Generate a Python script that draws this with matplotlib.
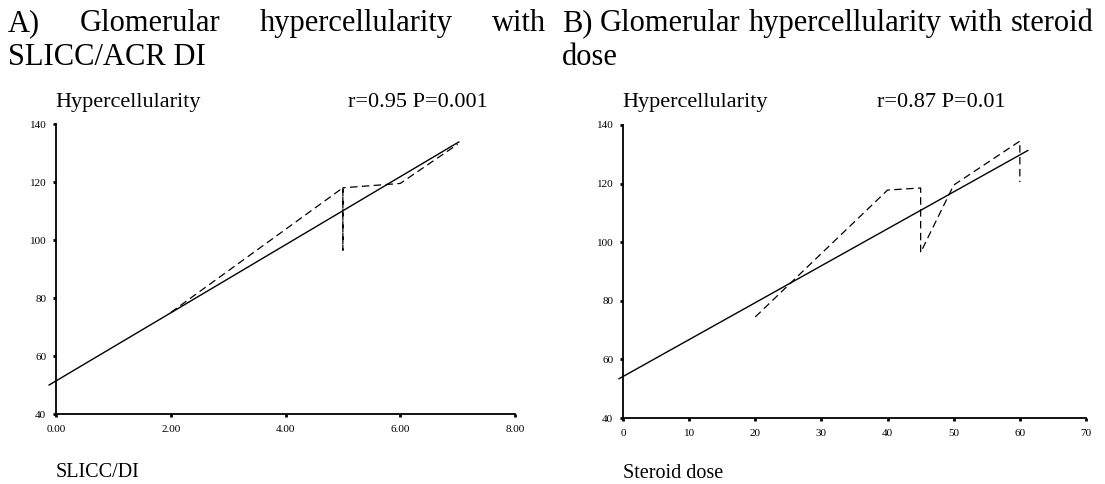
import matplotlib
matplotlib.use("Agg")
import matplotlib.pyplot as plt

# ---- data ----
slicc_x = [2, 5, 5, 5, 6, 7]
slicc_y = [75, 118, 96.5, 118, 119.5, 133]
slicc_fit_x = [-0.12, 7.02]
slicc_fit_y = [50.0, 133.8]

steroid_x = [20, 40, 45, 45, 50, 60, 60]
steroid_y = [74.5, 117.8, 118.5, 96.5, 119.5, 134.5, 120.5]
steroid_fit_x = [-0.6, 61.2]
steroid_fit_y = [53.4, 131.3]

yticks = [40, 60, 80, 100, 120, 140]
slicc_xticks = [0, 2, 4, 6, 8]
slicc_xticklabels = ["0.00", "2.00", "4.00", "6.00", "8.00"]
steroid_xticks = [0, 10, 20, 30, 40, 50, 60, 70]

title_a1 = ["A)", "Glomerular", "hypercellularity", "with"]
title_a2 = "SLICC/ACR DI"
title_b1 = ["B)", "Glomerular", "hypercellularity", "with", "steroid"]
title_b2 = "dose"
ylab = "Hypercellularity"
stat_a = "r=0.95 P=0.001"
stat_b = "r=0.87 P=0.01"
xlab_a = "SLICC/DI"
xlab_b = "Steroid dose"

plt.rcParams['font.family'] = ['Liberation Serif', 'DejaVu Serif']

W, H = 1105, 484
fig = plt.figure(figsize=(W / 100, H / 100), dpi=100)


def fx(px):
    return px / W


def fy(py):
    return 1 - py / H


def ax_rect(x0, x1, ytop, ybot):
    return [fx(x0), fy(ybot), (x1 - x0) / W, (ybot - ytop) / H]


axA = fig.add_axes(ax_rect(56, 515, 124, 414))
axB = fig.add_axes(ax_rect(623, 1086, 125, 418))

dash = (6, 3.5)
for ax, dx, dy, fxs, fys, xlim, xt in [
    (axA, slicc_x, slicc_y, slicc_fit_x, slicc_fit_y, (0, 8), slicc_xticks),
    (axB, steroid_x, steroid_y, steroid_fit_x, steroid_fit_y, (0, 70), steroid_xticks),
]:
    ax.plot(fxs, fys, color='black', lw=1.0, clip_on=False)
    ax.plot(dx, dy, color='black', lw=0.9, linestyle=(0, dash), clip_on=False)
    ax.set_xlim(*xlim)
    ax.set_ylim(40, 140)
    ax.set_yticks(yticks)
    ax.set_xticks(xt)
    for s in ['top', 'right']:
        ax.spines[s].set_visible(False)
    for s in ['left', 'bottom']:
        ax.spines[s].set_linewidth(1.3)
    ax.tick_params(axis='both', direction='out', length=2, width=2,
                   labelsize=8)
    ax.tick_params(axis='x', pad=6)
    ax.tick_params(axis='y', pad=5)

axA.set_xticklabels(slicc_xticklabels)

fig.canvas.draw()
renderer = fig.canvas.get_renderer()


def justify(words, x0, x1, ybase, size):
    ts = [fig.text(0, fy(ybase), w, fontsize=size, va='baseline', ha='left')
          for w in words]
    widths = [t.get_window_extent(renderer).width for t in ts]
    gap = (x1 - x0 - sum(widths)) / (len(words) - 1)
    x = x0
    for t, w in zip(ts, widths):
        t.set_x(fx(x))
        x += w + gap


TS = 22
justify(title_a1, 8, 546, 31, TS)
fig.text(fx(8), fy(65), title_a2, fontsize=TS, va='baseline', ha='left')
justify(title_b1, 562, 1094, 31, TS)
fig.text(fx(562), fy(65), title_b2, fontsize=TS, va='baseline', ha='left')

SS = 16
fig.text(fx(55), fy(107), ylab, fontsize=SS, va='baseline', ha='left')
fig.text(fx(348), fy(107), stat_a, fontsize=SS, va='baseline', ha='left')
fig.text(fx(622), fy(107), ylab, fontsize=SS, va='baseline', ha='left')
fig.text(fx(877), fy(107), stat_b, fontsize=SS, va='baseline', ha='left')

XS = 14.5
fig.text(fx(56), fy(477), xlab_a, fontsize=XS, va='baseline', ha='left')
fig.text(fx(623), fy(478), xlab_b, fontsize=XS, va='baseline', ha='left')

fig.savefig("out.png", dpi=100)
